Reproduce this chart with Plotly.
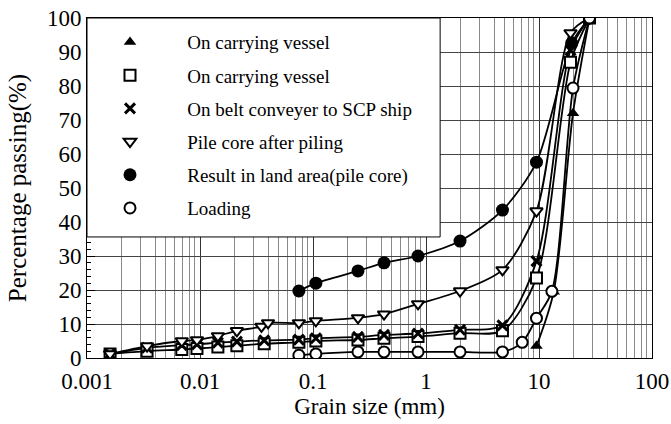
import plotly.graph_objects as go

# ---- data ----
tri_up_x = [9.5, 13.5, 20, 28]
tri_up_y = [3.5, 19.5, 72, 100]

square_x = [0.0016, 0.0034, 0.0069, 0.0094, 0.0144, 0.0212, 0.037,
            0.075, 0.106, 0.25, 0.425, 0.85, 2, 4.75, 9.5, 19, 28]
square_y = [1.2, 2.0, 2.5, 2.8, 3.2, 3.6, 4.2,
            4.6, 5.0, 5.3, 5.8, 6.3, 7.3, 8.0, 23.5, 87, 100]

cross_x = [0.0016, 0.0034, 0.0069, 0.0094, 0.0144, 0.0212, 0.037,
           0.075, 0.106, 0.25, 0.425, 0.85, 2, 4.75, 9.5, 19, 28]
cross_y = [1.2, 3.0, 3.8, 4.0, 4.5, 4.8, 5.2,
           5.4, 5.8, 6.2, 6.8, 7.2, 8.3, 9.6, 28.5, 90.5, 100]

tri_down_x = [0.0016, 0.0034, 0.0069, 0.0094, 0.0144, 0.0212, 0.035, 0.04,
              0.075, 0.106, 0.25, 0.425, 0.85, 2, 4.75, 9.5, 19, 28]
tri_down_y = [1.2, 3.5, 5.0, 5.3, 6.5, 8.0, 9.3, 10.3,
              10.3, 10.9, 11.8, 12.9, 15.9, 19.7, 25.9, 43.2, 95.6, 100]

fcircle_x = [0.075, 0.106, 0.25, 0.425, 0.85, 2, 4.75, 9.5, 19.5, 28]
fcircle_y = [19.7, 22.0, 25.6, 28.0, 30.0, 34.4, 43.5, 57.6, 92.6, 100]

ocircle_x = [0.075, 0.106, 0.25, 0.425, 0.85, 2, 4.75, 7.1, 9.5, 13, 20, 28]
ocircle_y = [0.8, 1.2, 1.8, 1.8, 1.8, 1.8, 1.8, 4.6, 11.7, 19.6, 79.4, 100]

names = ["On carrying vessel", "On carrying vessel", "On belt conveyer to SCP ship",
         "Pile core after piling", "Result in land area(pile core)", "Loading"]

x_tickvals = [0.001, 0.01, 0.1, 1, 10, 100]
x_ticktext = ["0.001", "0.01", "0.1", "1", "10", "100"]
y_tickvals = list(range(0, 101, 10))

FONT = "Liberation Serif, Times New Roman, Times, serif"
PAD = "\u00a0" * 3

series = [
    (tri_up_x, tri_up_y, dict(symbol="triangle-up", size=11, color="black")),
    (square_x, square_y, dict(symbol="square", size=11, color="white",
                              line=dict(color="black", width=2))),
    (cross_x, cross_y, dict(symbol="x-thin", size=10, color="black",
                            line=dict(color="black", width=3))),
    (tri_down_x, tri_down_y, dict(symbol="triangle-down", size=11, color="white",
                                  line=dict(color="black", width=2))),
    (fcircle_x, fcircle_y, dict(symbol="circle", size=13, color="black")),
    (ocircle_x, ocircle_y, dict(symbol="circle", size=11, color="white",
                                line=dict(color="black", width=2))),
]

fig = go.Figure()
# curves (not in legend)
for i, (xs, ys, mk) in enumerate(series):
    fig.add_trace(go.Scatter(
        x=xs, y=ys, name=names[i], legendgroup=f"g{i}", showlegend=False,
        mode="lines",
        line=dict(color="black", width=1.8, shape="spline", smoothing=0.8),
        hoverinfo="skip",
    ))
# markers (legend entries)
for i, (xs, ys, mk) in enumerate(series):
    fig.add_trace(go.Scatter(
        x=xs, y=ys, name=PAD + names[i], legendgroup=f"g{i}",
        mode="markers", marker=mk,
    ))

minor_x = [k * 10 ** e for e in range(-3, 2) for k in range(2, 10)]

# legend box (white panel with black border) in paper coordinates
fig.add_shape(type="rect", xref="paper", yref="paper",
              x0=0, x1=0.625, y0=0.356, y1=1,
              fillcolor="white", line=dict(color="black", width=1), layer="above")

fig.update_layout(
    width=671, height=424,
    margin=dict(l=87, r=19, t=18, b=66),
    paper_bgcolor="white", plot_bgcolor="white",
    font=dict(family=FONT, color="black", size=23),
    legend=dict(
        x=0, y=0.985, xanchor="left", yanchor="top",
        bgcolor="rgba(0,0,0,0)", borderwidth=0,
        font=dict(family=FONT, size=19, color="black"),
        tracegroupgap=5.5, itemwidth=76,
        traceorder="grouped",
    ),
    xaxis=dict(
        type="log", range=[-3, 2], automargin=False,
        tickvals=x_tickvals, ticktext=x_ticktext,
        showgrid=True, gridcolor="#333", gridwidth=1,
        showline=True, linecolor="black", linewidth=1, mirror=True,
        ticks="", zeroline=False, ticklabelstandoff=2,
        minor=dict(tickvals=minor_x, showgrid=True, gridcolor="#8a8a8a", gridwidth=1, ticks=""),
        title=dict(text="Grain size (mm)", font=dict(size=23), standoff=2),
        tickfont=dict(size=23),
    ),
    yaxis=dict(
        range=[0, 100], tickvals=y_tickvals, automargin=False,
        showgrid=True, gridcolor="#444", gridwidth=1,
        showline=True, linecolor="black", linewidth=1, mirror=True,
        ticks="inside", ticklen=8, tickcolor="black",
        minor=dict(dtick=2, ticks="inside", ticklen=4, tickcolor="black", showgrid=False),
        zeroline=False,
        title=dict(text="Percentage passing(%)", font=dict(size=25), standoff=13),
        tickfont=dict(size=23),
    ),
)

fig.write_html("out.html")
